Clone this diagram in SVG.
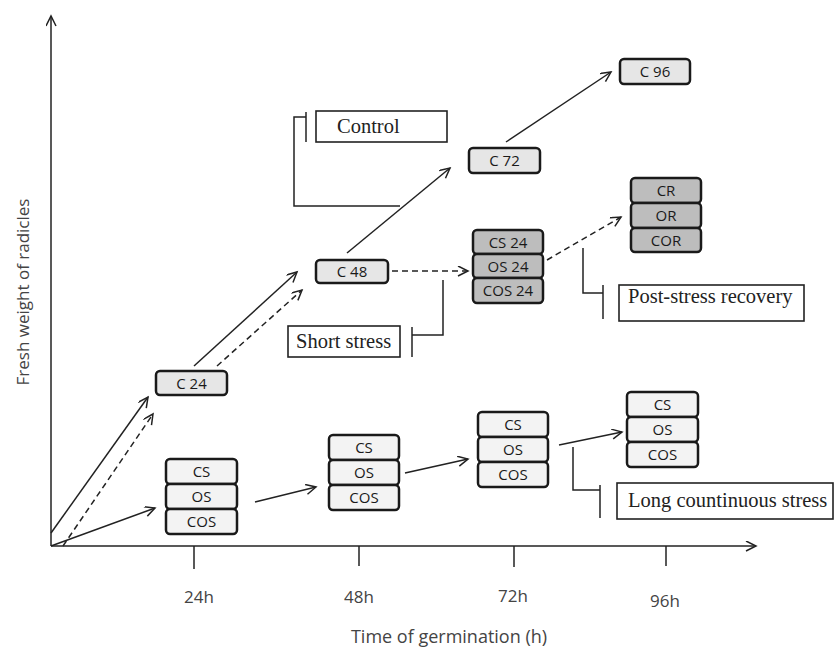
<svg xmlns="http://www.w3.org/2000/svg" width="834" height="648" viewBox="0 0 834 648">
<style>
.box{stroke:#1a1a1a;stroke-width:2.5}
.c{fill:#e6e6e6}
.d{fill:#bdbdbd}
.l{fill:#f3f3f3}
.nt{font-family:"Open Sans","Liberation Sans",sans-serif;font-size:15px;fill:#1a1a1a;text-anchor:middle}
.lb{fill:#fff;stroke:#222;stroke-width:1.6}
.lt{font-family:"Liberation Serif","Times New Roman",serif;font-size:20.5px;fill:#222}
.ax{font-family:"Open Sans","Liberation Sans",sans-serif;fill:#444;text-anchor:middle}
.ln{fill:none;stroke:#222;stroke-width:1.5}
.ds{stroke-dasharray:6,4}
</style>
<defs>
<marker id="ah" markerUnits="userSpaceOnUse" markerWidth="14" markerHeight="12" refX="11" refY="5" orient="auto">
<path d="M1,0 L11,5 L1,10" fill="none" stroke="#222" stroke-width="1.5" stroke-dasharray="none"/>
</marker>
</defs>
<rect width="834" height="648" fill="#fff"/>

<g id="axes">
<line class="ln" x1="51" y1="546" x2="51" y2="16" marker-end="url(#ah)"/>
<line class="ln" x1="51" y1="546" x2="756" y2="546" marker-end="url(#ah)"/>
<line class="ln" x1="194" y1="546" x2="194" y2="569"/>
<line class="ln" x1="359" y1="546" x2="359" y2="566"/>
<line class="ln" x1="514" y1="546" x2="514" y2="567"/>
<line class="ln" x1="666" y1="546" x2="666" y2="566"/>
<text class="ax" x="199" y="603" font-size="17">24h</text>
<text class="ax" x="359" y="603" font-size="17">48h</text>
<text class="ax" x="513" y="602" font-size="17">72h</text>
<text class="ax" x="665" y="607" font-size="17">96h</text>
<text class="ax" x="449" y="643" font-size="18" fill="#1a1a1a">Time of germination (h)</text>
<text class="ax" font-size="17" fill="#1a1a1a" transform="translate(29,292) rotate(-90)">Fresh weight of radicles</text>
</g>

<g id="connectors">
<line class="ln" x1="51" y1="533" x2="148" y2="397" marker-end="url(#ah)"/>
<line class="ln ds" x1="63" y1="546" x2="153" y2="414" marker-end="url(#ah)"/>
<line class="ln" x1="51" y1="546" x2="155" y2="508" marker-end="url(#ah)"/>
<line class="ln" x1="194" y1="366" x2="297" y2="272" marker-end="url(#ah)"/>
<line class="ln ds" x1="217" y1="366" x2="302" y2="290" marker-end="url(#ah)"/>
<line class="ln" x1="347" y1="253" x2="450" y2="168" marker-end="url(#ah)"/>
<line class="ln" x1="506" y1="142" x2="611" y2="72" marker-end="url(#ah)"/>
<line class="ln ds" x1="392" y1="271" x2="468" y2="271" marker-end="url(#ah)"/>
<line class="ln ds" x1="547" y1="260" x2="621" y2="217" marker-end="url(#ah)"/>
<line class="ln" x1="255" y1="502" x2="316" y2="487" marker-end="url(#ah)"/>
<line class="ln" x1="405" y1="473" x2="468" y2="459" marker-end="url(#ah)"/>
<line class="ln" x1="559" y1="445" x2="622" y2="432" marker-end="url(#ah)"/>
<polyline class="ln" points="400,206 294,206 294,117 306,117"/>
<line class="ln" x1="306" y1="112" x2="306" y2="142"/>
<polyline class="ln" points="443,280 443,335 412,335"/>
<line class="ln" x1="412" y1="327" x2="412" y2="357"/>
<polyline class="ln" points="583,248 583,293 603,293"/>
<line class="ln" x1="603" y1="285" x2="603" y2="319"/>
<polyline class="ln" points="573,447 573,490 600,490"/>
<line class="ln" x1="600" y1="485" x2="600" y2="518"/>
</g>

<g id="C24"><rect class="box c" x="156" y="371" width="71" height="24" rx="4"/><text class="nt" x="191.5" y="388.5">C 24</text></g>
<g id="C48"><rect class="box c" x="316" y="260" width="72" height="23" rx="4"/><text class="nt" x="352" y="277">C 48</text></g>
<g id="C72"><rect class="box c" x="469" y="148" width="71" height="25" rx="4"/><text class="nt" x="504.5" y="166">C 72</text></g>
<g id="C96"><rect class="box c" x="620" y="59" width="70" height="25" rx="4"/><text class="nt" x="655" y="77">C 96</text></g>

<g id="short-stress-stack">
<rect class="box d" x="473" y="230" width="70" height="24" rx="4"/><text class="nt" x="508" y="247.5">CS 24</text>
<rect class="box d" x="473" y="254" width="70" height="24" rx="4"/><text class="nt" x="508" y="271.5">OS 24</text>
<rect class="box d" x="473" y="278" width="70" height="25" rx="4"/><text class="nt" x="508" y="296">COS 24</text>
</g>
<g id="recovery-stack">
<rect class="box d" x="631" y="178" width="70" height="25" rx="4"/><text class="nt" x="666" y="196">CR</text>
<rect class="box d" x="631" y="203" width="70" height="25" rx="4"/><text class="nt" x="666" y="221">OR</text>
<rect class="box d" x="631" y="228" width="70" height="24" rx="4"/><text class="nt" x="666" y="245.5">COR</text>
</g>
<g id="long-stress-24">
<rect class="box l" x="166" y="459" width="71" height="25" rx="4"/><text class="nt" x="201.5" y="477">CS</text>
<rect class="box l" x="166" y="484" width="71" height="25" rx="4"/><text class="nt" x="201.5" y="502">OS</text>
<rect class="box l" x="166" y="509" width="71" height="25" rx="4"/><text class="nt" x="201.5" y="527">COS</text>
</g>
<g id="long-stress-48">
<rect class="box l" x="329" y="435" width="70" height="25" rx="4"/><text class="nt" x="364" y="453">CS</text>
<rect class="box l" x="329" y="460" width="70" height="25" rx="4"/><text class="nt" x="364" y="478">OS</text>
<rect class="box l" x="329" y="485" width="70" height="25" rx="4"/><text class="nt" x="364" y="503">COS</text>
</g>
<g id="long-stress-72">
<rect class="box l" x="478" y="412" width="70" height="25" rx="4"/><text class="nt" x="513" y="430">CS</text>
<rect class="box l" x="478" y="437" width="70" height="25" rx="4"/><text class="nt" x="513" y="455">OS</text>
<rect class="box l" x="478" y="462" width="70" height="25" rx="4"/><text class="nt" x="513" y="480">COS</text>
</g>
<g id="long-stress-96">
<rect class="box l" x="627" y="392" width="71" height="25" rx="4"/><text class="nt" x="662.5" y="410">CS</text>
<rect class="box l" x="627" y="417" width="71" height="25" rx="4"/><text class="nt" x="662.5" y="435">OS</text>
<rect class="box l" x="627" y="442" width="71" height="25" rx="4"/><text class="nt" x="662.5" y="460">COS</text>
</g>

<g id="label-control"><rect class="lb" x="316" y="111" width="131" height="31"/><text class="lt" x="337" y="133" font-size="24.5">Control</text></g>
<g id="label-short"><rect class="lb" x="288" y="326" width="112" height="31"/><text class="lt" x="296" y="348">Short stress</text></g>
<g id="label-recovery"><rect class="lb" x="619" y="285" width="185" height="36"/><text class="lt" x="628" y="303">Post-stress recovery</text></g>
<g id="label-long"><rect class="lb" x="617" y="483" width="216" height="36"/><text class="lt" x="628" y="507">Long countinuous stress</text></g>
</svg>
